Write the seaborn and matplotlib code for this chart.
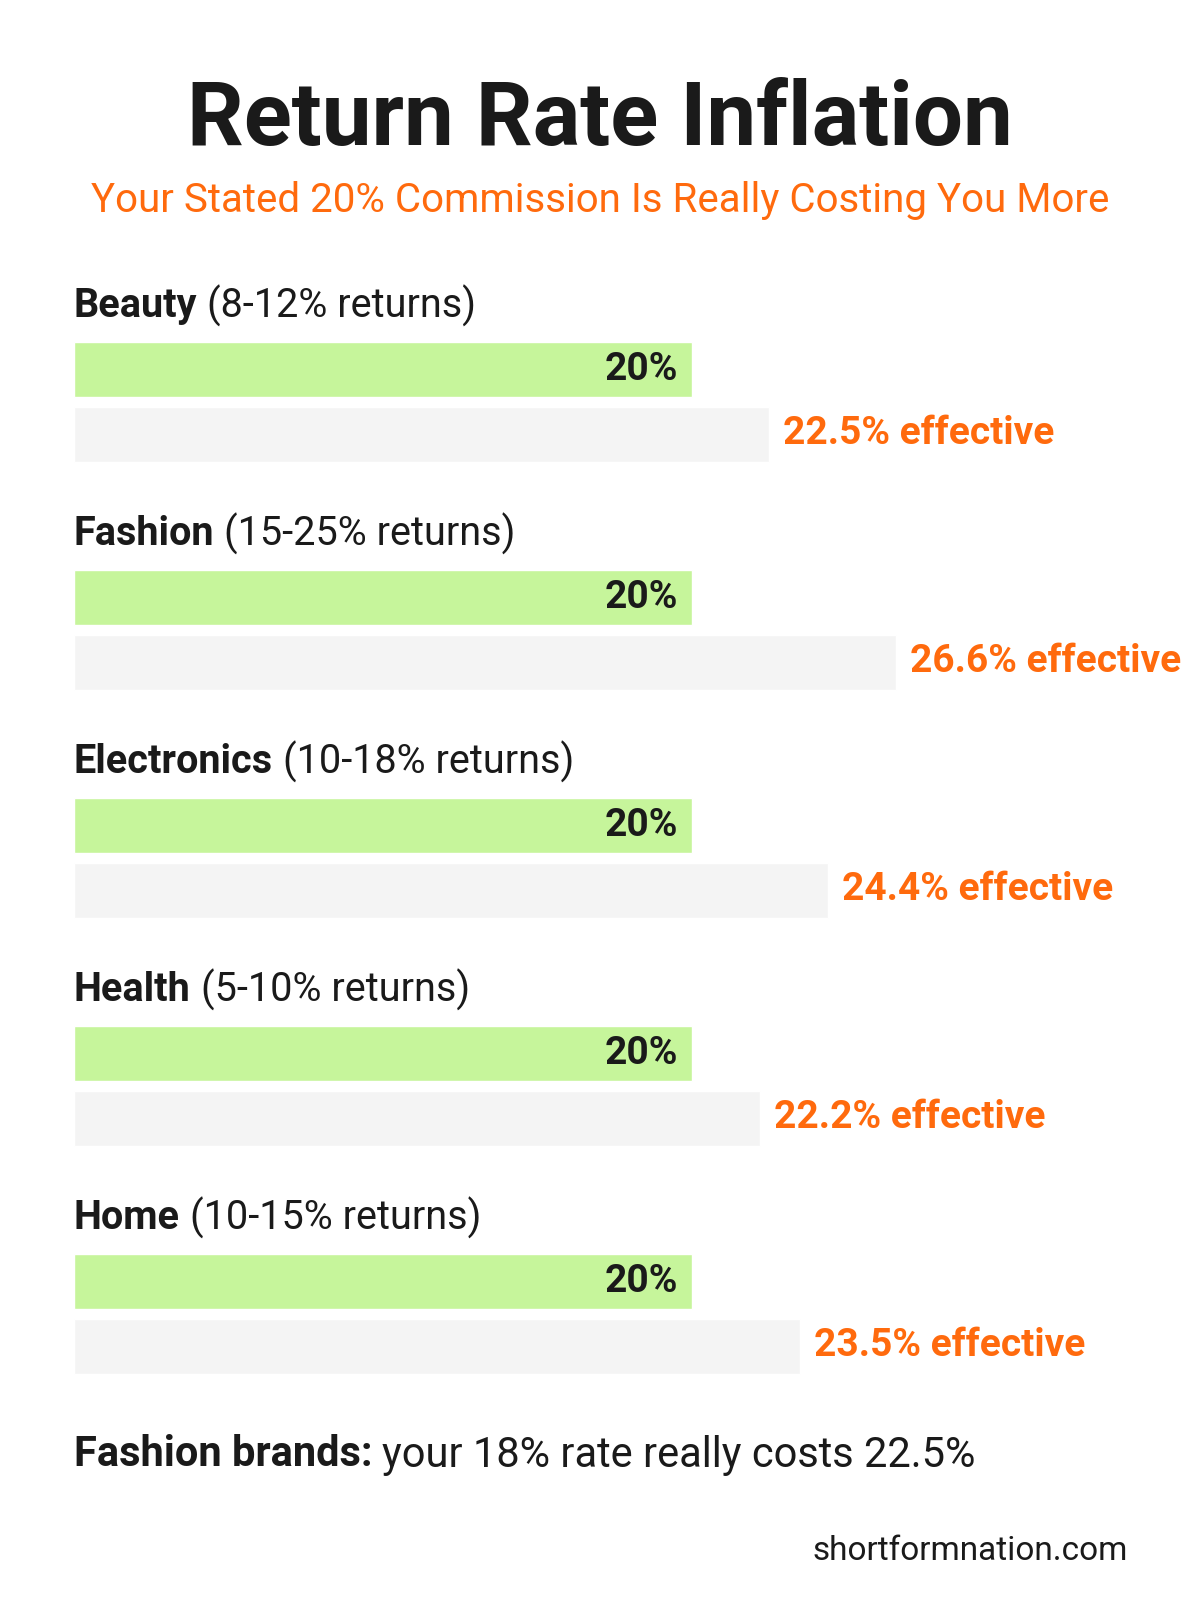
import matplotlib
matplotlib.use("Agg")
import matplotlib.pyplot as plt
import seaborn as sns

sns.set_theme(style="white")
plt.rcParams['font.family'] = ['Roboto', 'DejaVu Sans']

# data
categories = ["Beauty", "Fashion", "Electronics", "Health", "Home"]
return_ranges = ["8-12%", "15-25%", "10-18%", "5-10%", "10-15%"]
stated = [20, 20, 20, 20, 20]
effective = [22.5, 26.6, 24.4, 22.2, 23.5]

W, H = 1200, 1607
fig = plt.figure(figsize=(W / 100, H / 100), dpi=100)
fig.patch.set_facecolor("white")

# axes: x in percent, y in pixel rows
left = 74
ax = fig.add_axes([left / W, 0, 1 - left / W, 1])
px_per_pct = 30.9
ax.set_xlim(0, (W - left) / px_per_pct)
ax.set_ylim(H, 0)
ax.axis("off")

green = "#c6f59b"
grey = "#f4f4f4"
orange = "#ff6a0d"
row0, step = 306, 228
for i, cat in enumerate(categories):
    ly = row0 + i * step
    yg = ly + 63
    ye = ly + 128
    ax.barh(yg, stated[i], height=55, color=green, left=0)
    ax.barh(ye, effective[i], height=55, color=grey, left=0)
    ax.text(0, ly, cat, fontsize=28.5, fontweight="bold", color="#1a1a1a", va="center")
    # regular suffix after bold
    t = ax.text(0, ly, cat + " ", fontsize=28.5, fontweight="bold", alpha=0, va="center")
    fig.canvas.draw()
    bb = t.get_window_extent()
    xd = ax.transData.inverted().transform((bb.x1, 0))[0]
    ax.text(xd, ly, f"({return_ranges[i]} returns)", fontsize=28.5, color="#1a1a1a", va="center")
    ax.text(stated[i] - 0.45, yg, f"{stated[i]}%", fontsize=28, fontweight="bold",
            color="#1a1a1a", ha="right", va="center")
    ax.text(effective[i] + 0.45, ye, f"{effective[i]}% effective", fontsize=28,
            fontweight="bold", color=orange, ha="left", va="center")

fig.text(0.5, 1 - 120 / H, "Return Rate Inflation", fontsize=64, fontweight="bold",
         color="#1a1a1a", ha="center", va="center")
fig.text(0.5, 1 - 200 / H, "Your Stated 20% Commission Is Really Costing You More",
         fontsize=29, color=orange, ha="center", va="center")

fy = 1 - 1455 / H
t = fig.text(left / W, fy, "Fashion brands:", fontsize=30, fontweight="bold",
             color="#1a1a1a", va="center")
fig.canvas.draw()
bb = t.get_window_extent()
fig.text(bb.x1 / W + 0.008, fy, "your 18% rate really costs 22.5%", fontsize=30,
         color="#1a1a1a", va="center")
fig.text(1128 / W, 1 - 1551 / H, "shortformnation.com", fontsize=24,
         color="#1a1a1a", ha="right", va="center")

fig.savefig("out.png", dpi=100, facecolor="white")
